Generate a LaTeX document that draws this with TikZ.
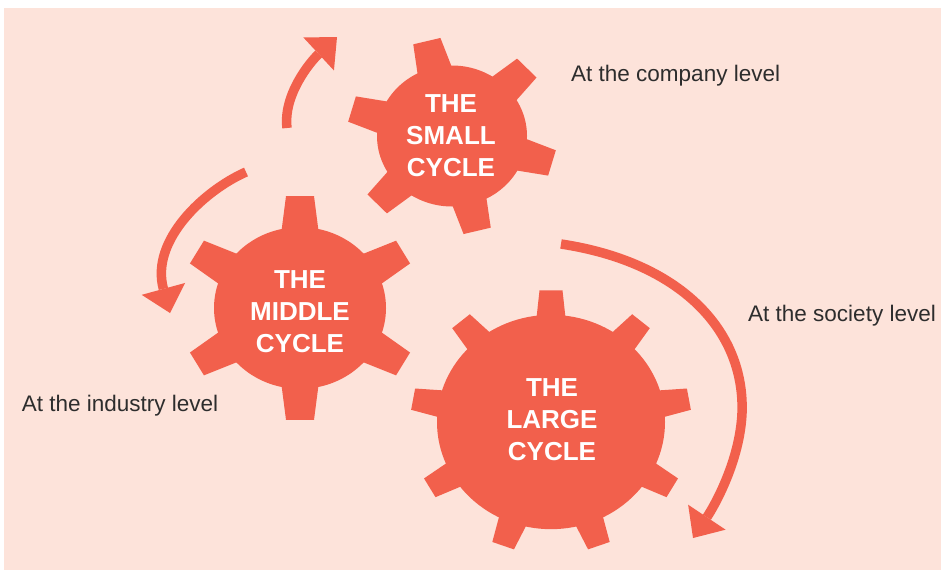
\documentclass[tikz,border=0pt]{standalone}
\usepackage{fontspec}
\setmainfont{Liberation Sans}
\usetikzlibrary{arrows.meta}
\definecolor{gearc}{RGB}{242,96,76}
\definecolor{bgc}{RGB}{253,227,218}
\definecolor{txtc}{RGB}{45,45,45}
\newcommand{\mygear}[8]{%
  \begin{scope}[shift={(#1,#2)},yscale=0.94]
    \fill[gearc] (0,0) circle (#3pt);
    \foreach \k in {1,...,#7}{
      \fill[gearc,rotate={#8+360/#7*\k}] ({#3-8},{-#6/2}) -- (#4,{-#5/2}) -- (#4,{#5/2}) -- ({#3-8},{#6/2}) -- cycle;
    }
  \end{scope}}
\begin{document}
\begin{tikzpicture}[x=1pt,y=1pt,
  arr/.style={draw=gearc,line width=9.5pt,-{Triangle[length=25pt,width=45pt,line width=0pt]}},
  lbl/.style={anchor=base west,inner sep=0pt,text=txtc,font=\fontsize{22.5}{27}\selectfont},
  geartxt/.style={align=center,text=white,font=\bfseries\fontsize{26}{32}\selectfont,inner sep=0pt}]
\useasboundingbox (0,0) rectangle (941,-570);
\fill[bgc] (4,-8) rectangle (941,-570);
% gears
\mygear{452}{-136}{75}{104}{28}{36}{6}{-16}
\mygear{300}{-308}{86}{119}{28}{38}{6}{-30}
\mygear{551}{-422}{114}{140}{23}{30}{9}{-30}
% gear texts
\node[geartxt] (small) at (451,-136) {THE\\SMALL\\CYCLE};
\node[geartxt] (middle) at (300,-312) {THE\\MIDDLE\\CYCLE};
\node[geartxt] (large) at (552,-420) {THE\\LARGE\\CYCLE};
% labels
\node[lbl] (company) at (571,-81.7) {At the company level};
\node[lbl] (industry) at (21.7,-411.7) {At the industry level};
\node[lbl] (society) at (748,-321.7) {At the society level};
% arrows
\coordinate (a1s) at (287,-128);
\coordinate (a1e) at (337,-37);
\coordinate (a2s) at (246,-172);
\coordinate (a2e) at (170,-313);
\coordinate (a3s) at (561,-244);
\coordinate (a3m) at (742,-413);
\coordinate (a3e) at (693,-538);
\draw[arr] (a1s) .. controls (283,-95) and (310,-62) .. (a1e);
\draw[arr] (a2s) .. controls (205,-190) and (150,-240) .. (a2e);
\draw[arr] (a3s) .. controls (680,-262) and (745,-330) .. (a3m) .. controls (740,-460) and (715,-505) .. (a3e);
\end{tikzpicture}
\end{document}
